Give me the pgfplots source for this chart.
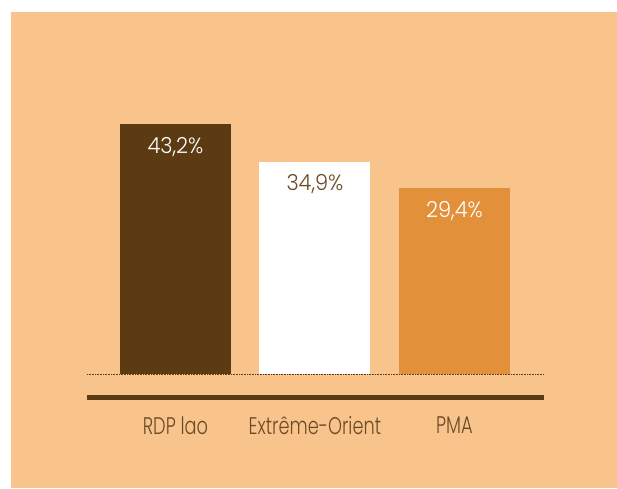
\documentclass[border=0pt]{standalone}
\usepackage{pgfplots}
\pgfplotsset{compat=1.18}
\usepackage{fontspec}
\setmainfont{Poppins Light}[FakeStretch=0.74]
\newfontfamily\numfont{Poppins Light}[FakeStretch=0.95]
\definecolor{peach}{HTML}{F8C48C}
\definecolor{dbrown}{HTML}{5C3A12}
\definecolor{orng}{HTML}{E3903A}
\definecolor{tbrown}{HTML}{6B4A26}
\begin{document}
\begin{tikzpicture}[x=1pt,y=1pt]
\fill[white] (0,0) rectangle (617,488);
\fill[peach] (11,0) rectangle (617,476);
\draw[dbrown, line width=0.8pt, dash pattern=on 0.8pt off 0.8pt] (87,113.5) -- (544,113.5);
\draw[dbrown, line width=4.5pt] (87,90.5) -- (544,90.5);
\begin{axis}[
  at={(87pt,114pt)}, anchor=south west,
  scale only axis, width=457pt, height=274pt,
  xmin=-0.634, xmax=2.642, ymin=0, ymax=58.42,
  axis line style={draw=none}, tick style={draw=none},
  ytick=\empty, xtick={0,1,2},
  xticklabels={RDP lao, Extrême-Orient, PMA},
  xticklabel style={anchor=center, yshift=-47pt, text=tbrown, font=\fontsize{24}{28}\selectfont},
  ybar, bar width=111pt,
  clip=false,
  /pgf/number format/assume math mode=true,
  /pgf/number format/use comma, /pgf/number format/fixed, /pgf/number format/precision=1, /pgf/number format/fixed zerofill,
  nodes near coords={\pgfmathprintnumber{\pgfplotspointmeta}\%},
  point meta=explicit,
]
\addplot[fill=dbrown, draw=none, bar shift=0pt, every node near coord/.style={text=white, anchor=center, yshift=-24pt, font=\numfont\fontsize{22}{26}\selectfont}]
  table[x=x, y expr=\thisrow{v}+10.2, meta=v] {
x v
0 43.2
};
\addplot[fill=white, draw=none, bar shift=0pt, every node near coord/.style={text=tbrown, anchor=center, yshift=-22pt, font=\numfont\fontsize{22}{26}\selectfont}]
  table[x=x, y expr=\thisrow{v}+10.2, meta=v] {
x v
1 34.9
};
\addplot[fill=orng, draw=none, bar shift=0pt, every node near coord/.style={text=white, anchor=center, yshift=-23pt, font=\numfont\fontsize{22}{26}\selectfont}]
  table[x=x, y expr=\thisrow{v}+10.2, meta=v] {
x v
2 29.4
};
\end{axis}
\end{tikzpicture}
\end{document}
